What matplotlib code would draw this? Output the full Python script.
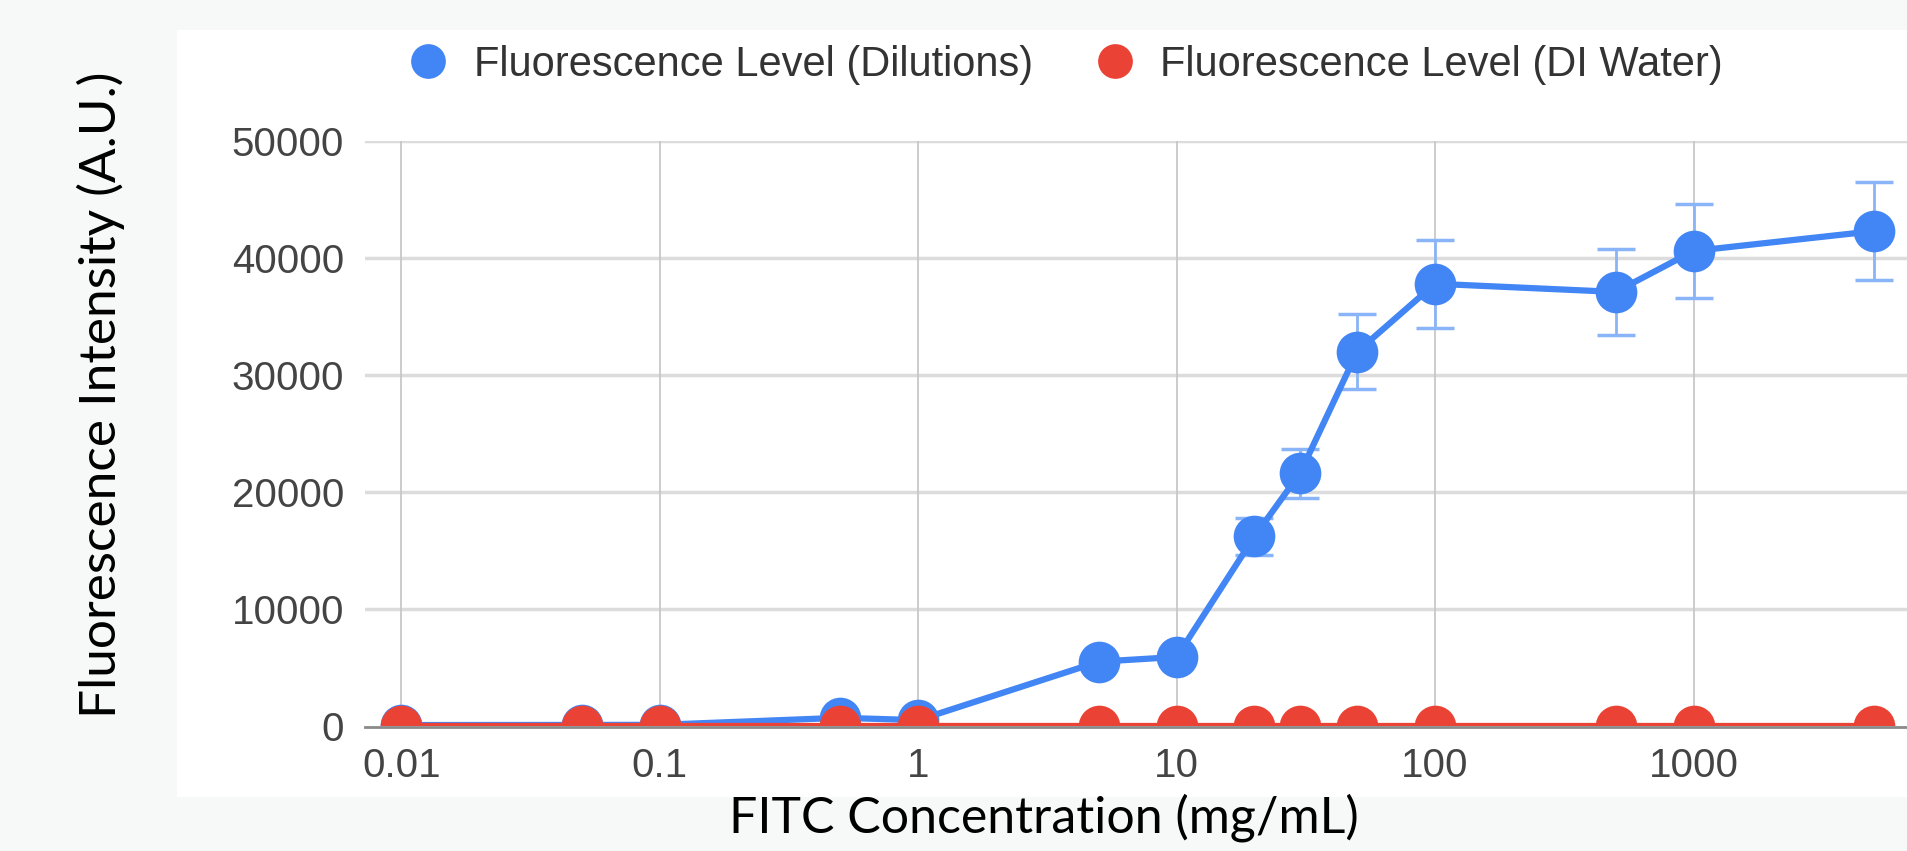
import numpy as np
import matplotlib.pyplot as plt
from matplotlib.lines import Line2D
from matplotlib.patches import Rectangle

# values
conc = [0.01, 0.05, 0.1, 0.5, 1, 5, 10, 20, 30, 50, 100, 500, 1000, 5000]
dilutions = [80, 90, 100, 700, 500, 5500, 5900, 16200, 21600, 32000, 37800, 37100, 40600, 42300]
dilutions_err = [0, 0, 0, 0, 0, 400, 400, 1600, 2100, 3200, 3750, 3700, 4000, 4200]
di_water = [0, 0, 0, 0, 0, 0, 0, 0, 0, 0, 0, 0, 0, 0]
xticks = [0.01, 0.1, 1, 10, 100, 1000]
xticklabels = ["0.01", "0.1", "1", "10", "100", "1000"]
yticks = [0, 10000, 20000, 30000, 40000, 50000]

blue = "#4285F4"
red = "#EA4335"

fig = plt.figure(figsize=(19.08, 8.51), dpi=100, facecolor="#f7f9f9")
# white chart card
fig.patches.append(Rectangle((177/1908, 1-797/851), 1-177/1908, (797-30)/851,
                             transform=fig.transFigure, facecolor="white",
                             edgecolor="none", zorder=-5))

ax = fig.add_axes([365/1908, 1-726/851, 1-365/1908, (726-141)/851])
ax.set_zorder(2)
ax.set_facecolor("white")
ax.set_xscale("log")
ax.set_xlim(10**-2.141, 10**3.83)
ax.set_ylim(0, 50000)

for s in ax.spines.values():
    s.set_visible(False)

for y in yticks[1:]:
    ax.axhline(y, color="#dcdcdc", lw=2.5, zorder=0)
for x in xticks:
    ax.axvline(x, color="#c8c8c8", lw=1.3, zorder=0)

ax.errorbar(conc, dilutions, yerr=dilutions_err, fmt="none", ecolor="#8ab4f8",
            elinewidth=2, capsize=14, capthick=2.5, zorder=2)
ax.plot(conc, dilutions, color=blue, lw=4.5, marker="o", markersize=30,
        markeredgewidth=0, zorder=3)
ax.plot(conc, di_water, color=red, lw=4.5, marker="o", markersize=30,
        markeredgewidth=0, zorder=4)

# hide the part of the markers that falls below zero (cut like the original)
ax.add_patch(Rectangle((0, -0.037), 1, 0.037, transform=ax.transAxes,
                       facecolor="white", edgecolor="none", clip_on=False, zorder=5))
ax.plot([0, 1], [-0.002, -0.002], transform=ax.transAxes, color="#8a8a8a",
        lw=2, clip_on=False, zorder=6)

ax.set_xticks(xticks)
ax.set_xticklabels(xticklabels)
ax.minorticks_off()
ax.set_yticks(yticks)
ax.set_yticklabels([str(v) for v in yticks])
ax.tick_params(length=0, labelsize=29, labelcolor="#444444", pad=15)
for lab in ax.get_xticklabels() + ax.get_yticklabels():
    lab.set_fontfamily("Liberation Sans")

fig.text(101/1908, 1-395/851, "Fluorescence Intensity (A.U.)", rotation=90,
         ha="center", va="center", fontsize=37, family="Lato", color="black")
fig.text(1044/1908, 1-818/851, "FITC Concentration (mg/mL)", ha="center",
         va="center", fontsize=36, family="Lato", color="black")

handles = [Line2D([], [], ls="none", marker="o", markersize=25, color=blue, markeredgewidth=0),
           Line2D([], [], ls="none", marker="o", markersize=25, color=red, markeredgewidth=0)]
fig.legend(handles, ["Fluorescence Level (Dilutions)", "Fluorescence Level (DI Water)"],
           loc="center left", bbox_to_anchor=(370/1908, 1-65/851), ncol=2, frameon=False,
           prop={"family": "Liberation Sans", "size": 30}, labelcolor="#333333",
           handletextpad=0.6, columnspacing=1.45, handlelength=1.0)

fig.savefig("out.png", dpi=100, facecolor=fig.get_facecolor())
